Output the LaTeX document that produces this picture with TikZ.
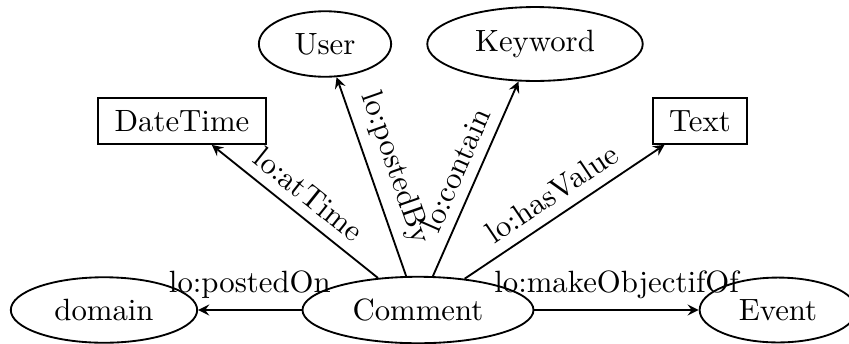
\documentclass[tikz,border=0pt]{standalone}
\usepackage{tikz}
\usetikzlibrary{arrows.meta, positioning, shapes.geometric}

\begin{document}
\begin{tikzpicture}[x=0.325pt, y=0.325pt, >=stealth, semithick,
    cls/.style={draw, ellipse, inner xsep=5.3pt, inner ysep=4pt},
    lit/.style={draw, rectangle, inner xsep=5.3pt, inner ysep=4pt}]
    \useasboundingbox (0,0) rectangle (849,343);

    \node[cls] (User) at (325,299) {User};
    \node[cls] (Keyword) at (535,299) {Keyword};
    \node[lit] (DateTime) at (182,222) {DateTime};
    \node[lit] (Text) at (700,222) {Text};
    \node[cls] (domain) at (104,33) {domain};
    \node[cls] (Comment) at (418,33) {Comment};
    \node[cls] (Event) at (778,33) {Event};

    \draw[->] (Comment) -- (domain) node[midway, above] {lo:postedOn};
    \draw[->] (Comment) -- (Event) node[midway, above] {lo:makeObjectifOf};
    \draw[->] (Comment) -- (DateTime) node[midway, above, sloped] {lo:atTime};
    \draw[->] (Comment) -- (User) node[midway, above, sloped] {lo:postedBy};
    \draw[->] (Comment) -- (Keyword) node[midway, above, sloped] {lo:contain};
    \draw[->] (Comment) -- (Text) node[midway, above, sloped] {lo:hasValue};
\end{tikzpicture}
\end{document}
